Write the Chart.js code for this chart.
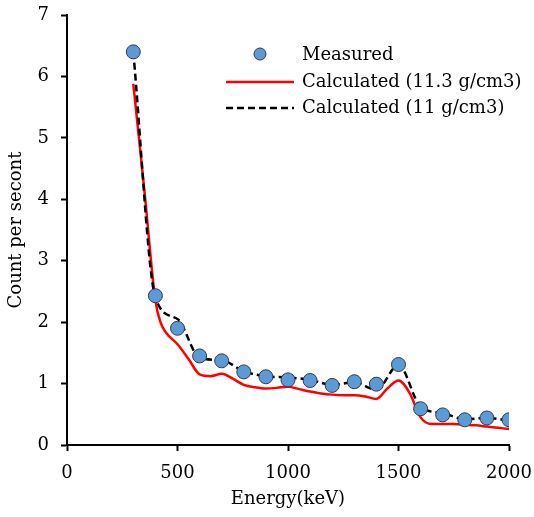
<!DOCTYPE html>
<html lang="en">
<head>
  <meta charset="UTF-8" />
  <title>Count per second vs Energy</title>
  <script src="https://cdn.jsdelivr.net/npm/chart.js"></script>
  <style>
    html, body { margin: 0; padding: 0; background: #fff; }
    #wrap { width: 534px; height: 517px; position: relative; }
  </style>
</head>
<body>
  <div id="wrap"><canvas id="spectrum"></canvas></div>

  <script>
    // measured points (keV, counts/s)
    const measuredE = [300, 400, 500, 600, 700, 800, 900, 1000, 1100, 1200, 1300, 1400, 1500, 1600, 1700, 1800, 1900, 2000];
    const measuredC = [6.40, 2.43, 1.90, 1.45, 1.37, 1.19, 1.11, 1.06, 1.05, 0.97, 1.03, 0.99, 1.31, 0.59, 0.49, 0.41, 0.44, 0.41];

    // calculated, 11.3 g/cm3 (red)
    const calcHiE = [300, 350, 400, 425, 450, 500, 550, 600, 650, 700, 750, 800, 850, 900, 950, 1000, 1050, 1100, 1150, 1200, 1250, 1300, 1350, 1400, 1450, 1500, 1550, 1600, 1650, 1700, 1750, 1800, 1850, 1900, 1950, 2000];
    const calcHiC = [5.88, 4.15, 2.35, 1.98, 1.82, 1.64, 1.40, 1.15, 1.12, 1.16, 1.08, 0.98, 0.94, 0.92, 0.93, 0.95, 0.91, 0.87, 0.84, 0.82, 0.81, 0.81, 0.79, 0.75, 0.92, 1.05, 0.85, 0.45, 0.34, 0.34, 0.34, 0.33, 0.32, 0.30, 0.28, 0.26];

    // calculated, 11 g/cm3 (black dashed)
    const calcLoE = [300, 400, 500, 600, 700, 800, 900, 1000, 1100, 1200, 1300, 1400, 1500, 1600, 1700, 1800, 1900, 2000];
    const calcLoC = [6.40, 2.40, 2.05, 1.42, 1.38, 1.20, 1.12, 1.10, 1.06, 0.98, 1.02, 0.90, 1.30, 0.62, 0.52, 0.42, 0.44, 0.40];

    const xTicks = [0, 500, 1000, 1500, 2000];
    const yTicks = [0, 1, 2, 3, 4, 5, 6, 7];

    const FONT = "'DejaVu Serif', serif";
    const toXY = (xs, ys) => xs.map((x, i) => ({ x, y: ys[i] }));

    // legend drawn inside the plot, top right
    const insideLegend = {
      id: "insideLegend",
      afterDraw(chart) {
        const ctx = chart.ctx;
        const items = [
          { label: "Measured", kind: "dot", y: 55 },
          { label: "Calculated (11.3 g/cm3)", kind: "red", y: 82 },
          { label: "Calculated (11 g/cm3)", kind: "dash", y: 108 }
        ];
        const x0 = 226, x1 = 294, tx = 302;
        ctx.save();
        items.forEach(it => {
          if (it.kind === "dot") {
            ctx.beginPath();
            ctx.arc(260, it.y - 1, 6, 0, Math.PI * 2);
            ctx.fillStyle = "#5b9bd5";
            ctx.fill();
            ctx.lineWidth = 1;
            ctx.strokeStyle = "#2f3b4c";
            ctx.stroke();
          } else {
            ctx.beginPath();
            ctx.moveTo(x0, it.y);
            ctx.lineTo(x1, it.y);
            ctx.lineWidth = 2.5;
            ctx.strokeStyle = it.kind === "red" ? "#ff0000" : "#000";
            ctx.setLineDash(it.kind === "dash" ? [7, 4] : []);
            ctx.stroke();
            ctx.setLineDash([]);
          }
          ctx.fillStyle = "#000";
          ctx.font = "18px " + FONT;
          ctx.textBaseline = "middle";
          ctx.fillText(it.label, tx, it.y);
        });
        ctx.restore();
      }
    };

    new Chart(document.getElementById("spectrum"), {
      type: "scatter",
      data: {
        datasets: [
          {
            label: "Measured",
            data: toXY(measuredE, measuredC),
            showLine: false,
            pointRadius: 7,
            pointBackgroundColor: "#5b9bd5",
            pointBorderColor: "#2f3b4c",
            pointBorderWidth: 1
          },
          {
            label: "Calculated (11 g/cm3)",
            data: toXY(calcLoE, calcLoC),
            showLine: true,
            borderColor: "#000",
            borderWidth: 2.5,
            borderDash: [7, 4],
            pointRadius: 0,
            cubicInterpolationMode: "monotone"
          },
          {
            label: "Calculated (11.3 g/cm3)",
            data: toXY(calcHiE, calcHiC),
            showLine: true,
            borderColor: "#ff0000",
            borderWidth: 2.5,
            pointRadius: 0,
            cubicInterpolationMode: "monotone"
          }
        ]
      },
      options: {
        responsive: true,
        maintainAspectRatio: false,
        animation: false,
        layout: { padding: { top: 15, right: 25, left: 0, bottom: 0 } },
        plugins: { legend: { display: false }, tooltip: { enabled: false } },
        scales: {
          x: {
            type: "linear",
            min: 0, max: 2000,
            afterBuildTicks: s => { s.ticks = xTicks.map(v => ({ value: v })); },
            afterFit: s => { s.height = 72; s.paddingLeft = 0; s.paddingRight = 0; },
            grid: { display: true, drawOnChartArea: false, drawTicks: true, tickLength: 6, tickColor: "#000", tickWidth: 2 },
            border: { color: "#000", width: 2 },
            ticks: { color: "#000", font: { family: FONT, size: 18 }, padding: 12, maxRotation: 0, callback: v => String(v) },
            title: { display: true, text: "Energy(keV)", color: "#000", font: { family: FONT, size: 18 }, padding: { top: 0, bottom: 7 } }
          },
          y: {
            min: 0, max: 7,
            afterBuildTicks: s => { s.ticks = yTicks.map(v => ({ value: v })); },
            afterFit: s => { s.width = 67; s.paddingTop = 0; s.paddingBottom = 0; },
            grid: { display: true, drawOnChartArea: false, drawTicks: true, tickLength: 6, tickColor: "#000", tickWidth: 2 },
            border: { color: "#000", width: 2 },
            ticks: { color: "#000", font: { family: FONT, size: 18 }, padding: 12 },
            title: { display: true, text: "Count per secont", color: "#000", font: { family: FONT, size: 18 }, padding: { top: 6, bottom: 0 } }
          }
        }
      },
      plugins: [insideLegend]
    });
  </script>
</body>
</html>
